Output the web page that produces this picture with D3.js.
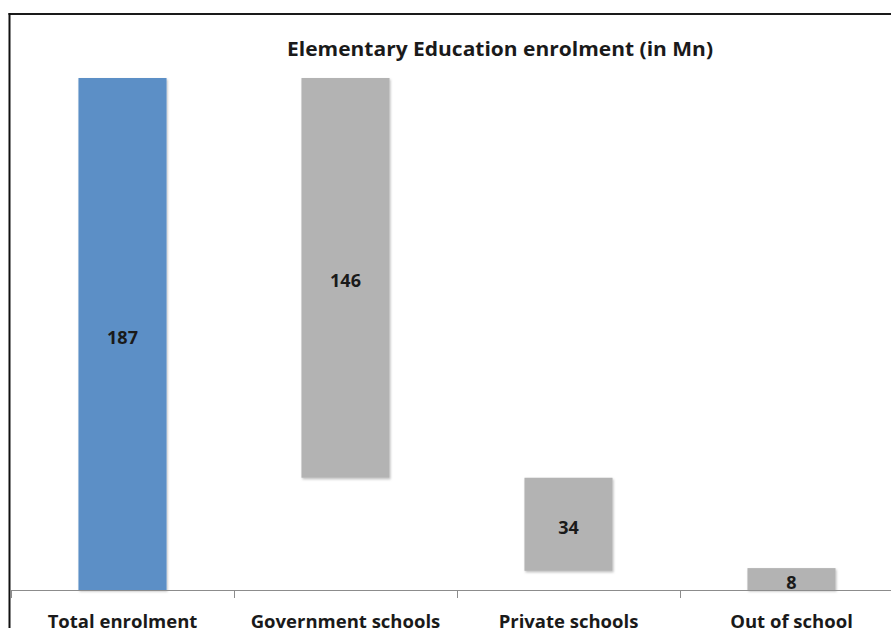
<!DOCTYPE html>
<html>
<head>
<meta charset="utf-8">
<script src="https://cdn.jsdelivr.net/npm/d3@7"></script>
<style>
  html, body { margin: 0; padding: 0; background: #fff; overflow: hidden; }
  svg { display: block; }
</style>
</head>
<body>
<svg id="chart" width="891" height="628"></svg>
<script>
// Waterfall of elementary education enrolment (millions)
const categories = ["Total enrolment", "Government schools", "Private schools", "Out of school"];
const values = [187, 146, 34, 8];
// Bar extents: total rises from zero, components step down from the running top
const barStart = [0, 187, 41, 8];
const barEnd = [187, 41, 7, 0];
const barColors = ["#5b8fc6", "#b3b3b3", "#b3b3b3", "#b3b3b3"];

const svg = d3.select("#chart");
const W = 891, H = 628;
const plotLeft = 11, step = 223, plotRight = plotLeft + step * 4;
const baseY = 590, topY = 78;
const font = "'Open Sans', sans-serif";

const x = d3.scaleBand().domain(categories).range([plotLeft, plotRight]).paddingInner(0.605).paddingOuter(0.3025);
const y = d3.scaleLinear().domain([0, 187]).range([baseY, topY]);

// Soft drop shadow under bars
const defs = svg.append("defs");
const f = defs.append("filter").attr("id", "shadow").attr("x", "-10%").attr("y", "-10%").attr("width", "130%").attr("height", "130%");
f.append("feDropShadow").attr("dx", 1).attr("dy", 1.5).attr("stdDeviation", 1.2).attr("flood-color", "#000").attr("flood-opacity", 0.25);

// Outer frame (top and left visible)
svg.append("line").attr("x1", 8.5).attr("x2", W).attr("y1", 14).attr("y2", 14).attr("stroke", "#1a1a1a").attr("stroke-width", 2);
svg.append("line").attr("x1", 9.5).attr("x2", 9.5).attr("y1", 13).attr("y2", H).attr("stroke", "#111").attr("stroke-width", 2);

// Title
svg.append("text")
  .attr("x", 500).attr("y", 56)
  .attr("text-anchor", "middle")
  .attr("font-family", font)
  .attr("font-weight", "bold")
  .attr("font-size", 20)
  .attr("textLength", 426)
  .attr("lengthAdjust", "spacingAndGlyphs")
  .attr("fill", "#1a1a1a")
  .text("Elementary Education enrolment (in Mn)");

// Bars
const idx = d3.range(categories.length);
svg.selectAll("rect.bar").data(idx).enter().append("rect")
  .attr("class", "bar")
  .attr("x", i => x(categories[i]))
  .attr("width", x.bandwidth())
  .attr("y", i => y(Math.max(barStart[i], barEnd[i])))
  .attr("height", i => Math.abs(y(barStart[i]) - y(barEnd[i])))
  .attr("fill", i => barColors[i])
  .attr("filter", "url(#shadow)");

// Value labels, centred in each bar
svg.selectAll("text.val").data(idx).enter().append("text")
  .attr("class", "val")
  .attr("x", i => x(categories[i]) + x.bandwidth() / 2)
  .attr("y", i => (y(barStart[i]) + y(barEnd[i])) / 2 + 9.5)
  .attr("text-anchor", "middle")
  .attr("font-family", font)
  .attr("font-weight", "bold")
  .attr("font-size", 18)
  .attr("fill", "#1a1a1a")
  .text(i => values[i]);

// Category axis
const axis = svg.append("g").attr("transform", `translate(0,${baseY})`);
axis.append("line").attr("x1", plotLeft).attr("x2", W).attr("y1", 0.5).attr("y2", 0.5).attr("stroke", "#8c8c8c").attr("stroke-width", 1.2);
const tickXs = d3.range(categories.length + 1).map(k => plotLeft + k * x.step());
axis.selectAll("line.tick").data(tickXs).enter().append("line")
  .attr("class", "tick")
  .attr("x1", d => d + 0.5).attr("x2", d => d + 0.5)
  .attr("y1", 0).attr("y2", 8)
  .attr("stroke", "#8c8c8c").attr("stroke-width", 1);
axis.selectAll("text.cat").data(categories).enter().append("text")
  .attr("class", "cat")
  .attr("x", d => x(d) + x.bandwidth() / 2)
  .attr("y", 38)
  .attr("text-anchor", "middle")
  .attr("font-family", font)
  .attr("font-weight", "bold")
  .attr("font-size", 18.5)
  .attr("fill", "#1a1a1a")
  .text(d => d);
</script>
</body>
</html>
